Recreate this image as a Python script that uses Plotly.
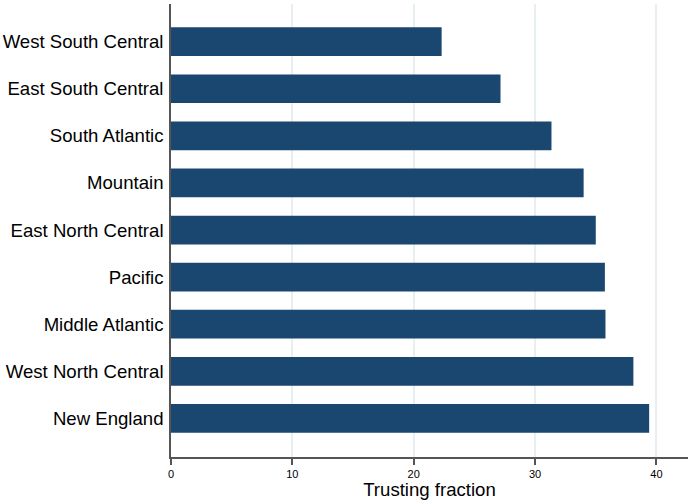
import plotly.graph_objects as go

regions = ["West South Central", "East South Central", "South Atlantic", "Mountain",
           "East North Central", "Pacific", "Middle Atlantic", "West North Central", "New England"]
trusting = [22.3, 27.15, 31.35, 34.0, 35.0, 35.75, 35.8, 38.1, 39.4]
x_ticks = [0, 10, 20, 30, 40]

fig = go.Figure(go.Bar(
    x=trusting, y=regions, orientation="h",
    marker=dict(color="#1a476f", line=dict(width=0)),
    width=0.61,
))

fig.update_layout(
    width=688, height=500,
    margin=dict(l=171, r=0, t=4, b=43),
    paper_bgcolor="white", plot_bgcolor="white",
    font=dict(family="Liberation Sans, Arial, Helvetica, sans-serif", color="black"),
    showlegend=False,
    bargap=0.39,
)
fig.update_xaxes(
    range=[0, 42.6], tickvals=x_ticks, ticktext=[str(t) for t in x_ticks],
    showgrid=True, gridcolor="#e8eff2", gridwidth=1.5,
    showline=True, linecolor="#555555", linewidth=1.5,
    ticks="outside", ticklen=6, tickcolor="#555555", tickwidth=1.5,
    tickfont=dict(size=11), zeroline=False,
    title=dict(text="Trusting fraction", font=dict(size=18.6), standoff=5),
)
fig.update_yaxes(
    categoryorder="array", categoryarray=regions,
    range=[8.82, -0.8],
    showgrid=False, zeroline=False,
    showline=True, linecolor="#555555", linewidth=1.5,
    ticks="", tickfont=dict(size=18.6), ticklabelstandoff=2,
)

fig.write_html("out.html")
